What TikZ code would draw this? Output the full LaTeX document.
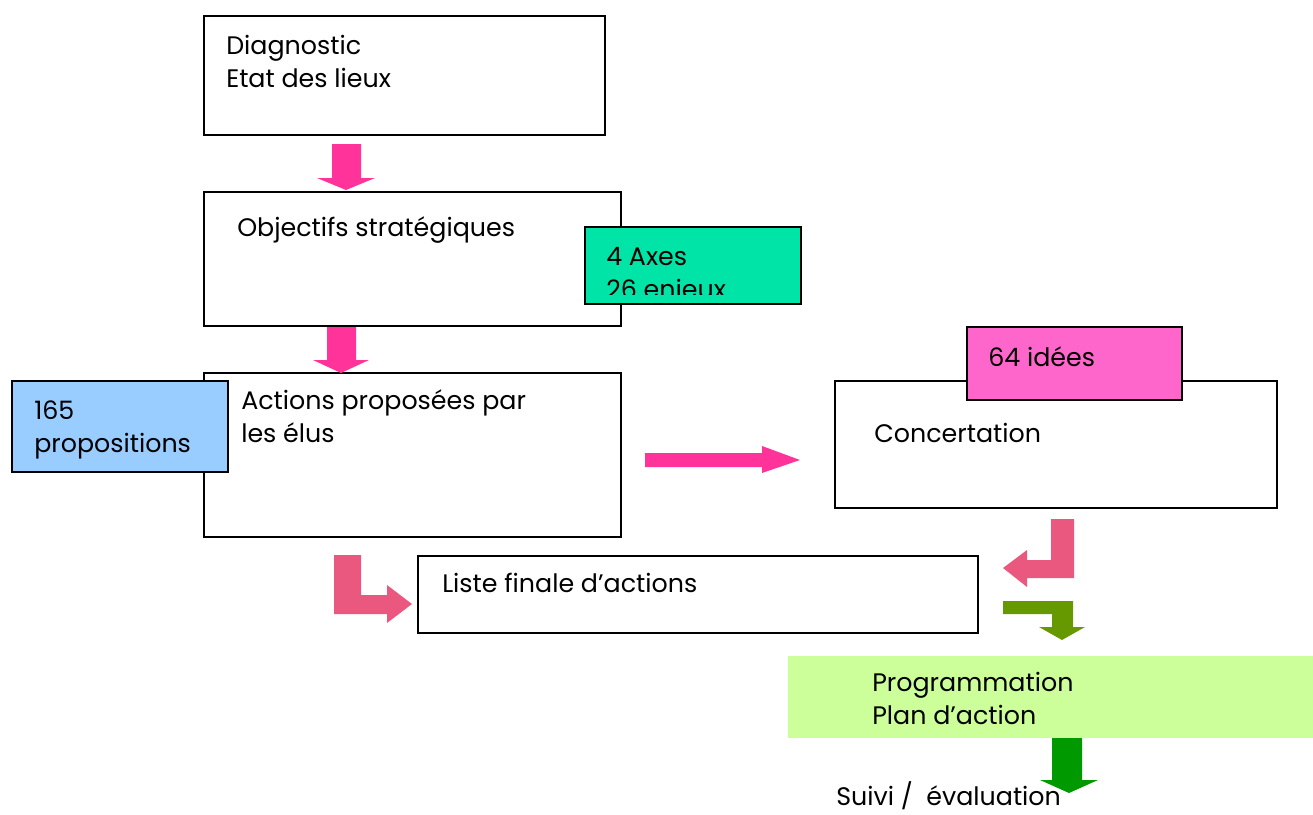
\documentclass[tikz,border=0pt]{standalone}
\usepackage{fontspec}
\setmainfont{Poppins}
\usetikzlibrary{fit}

\definecolor{hotpink}{RGB}{255,51,153}
\definecolor{bentpink}{RGB}{234,88,128}
\definecolor{olive}{RGB}{102,153,0}
\definecolor{darkgreen}{RGB}{0,153,0}
\definecolor{axesfill}{RGB}{0,228,168}
\definecolor{propfill}{RGB}{153,204,255}
\definecolor{ideefill}{RGB}{255,102,204}
\definecolor{progfill}{RGB}{204,255,153}

\begin{document}
\begin{tikzpicture}[x=0.75pt,y=0.75pt,yscale=-1,xscale=1,
  box/.style={draw,line width=1pt,inner sep=0pt},
  txt/.style={anchor=base west,inner sep=0pt,align=left,font=\fontsize{19}{24.5}\selectfont}]
\useasboundingbox (0,0) rectangle (1313,814);

%Boxes
\node [box, fit={(204,16) (605,135)}] (diag) {};
\node [box, fit={(204,192) (621,326)}] (objectifs) {};
\node [box, fit={(204,373) (621,537)}] (actions) {};
\node [box, fit={(835,381) (1277,508)}] (concert) {};
\node [box, fit={(418,556) (978,633)}] (liste) {};
\node [inner sep=0pt, fill=progfill, fit={(788,656) (1313,738)}] (prog) {};

%Tags
\node [box, fill=axesfill, fit={(585,227) (801,304)}] (axes) {};
\node [box, fill=propfill, fit={(12,381) (228,472)}] (props) {};
\node [box, fill=ideefill, fit={(967,327) (1182,400)}] (idees) {};

%Block arrows, straight
\fill [hotpink] (332,144) -- (361,144) -- (361,178) -- (375,178) -- (346,190) -- (317,178) -- (332,178) -- cycle;
\fill [hotpink] (327,327) -- (356,327) -- (356,360) -- (369,360) -- (341,373) -- (313,360) -- (327,360) -- cycle;
\fill [hotpink] (645,453) -- (762,453) -- (762,446) -- (800,460) -- (762,473) -- (762,467) -- (645,467) -- cycle;
\fill [darkgreen] (1052,738) -- (1082,738) -- (1082,780) -- (1098,780) -- (1069,793) -- (1040,780) -- (1052,780) -- cycle;

%Block arrows, bent
\fill [bentpink] (334,555) -- (361,555) -- (361,595) -- (387,595) -- (387,585) -- (412,604) -- (387,623) -- (387,614) -- (334,614) -- cycle;
\fill [bentpink] (1051,519) -- (1074,519) -- (1074,578) -- (1027,578) -- (1027,587) -- (1003,568) -- (1027,550) -- (1027,560) -- (1051,560) -- cycle;
\fill [olive] (1003,601) -- (1073,601) -- (1073,627) -- (1085,627) -- (1062,640) -- (1039,627) -- (1052,627) -- (1052,614) -- (1003,614) -- cycle;

% Text Node
\node [txt] (diagtxt) at (226,87) {Diagnostic\\Etat des lieux};
% Text Node
\node [txt] (objtxt) at (237,236) {Objectifs stratégiques};
% Text Node
\begin{scope}
\clip (587,229) rectangle (799,294);
\node [txt] (axestxt) at (606,298) {4 Axes\\26 enjeux};
\end{scope}
% Text Node
\node [txt] (actionstxt) at (241,442) {Actions proposées par\\les élus};
% Text Node
\node [txt] (propstxt) at (34,452) {165\\propositions};
% Text Node
\node [txt] (concerttxt) at (874,442) {Concertation};
% Text Node
\node [txt] (ideestxt) at (988,366) {64 idées};
% Text Node
\node [txt] (listetxt) at (442,592) {Liste finale d’actions};
% Text Node
\node [txt] (progtxt) at (872,724) {Programmation\\Plan d’action};
% Text Node
\node [txt] (suivitxt) at (836,805) {Suivi /~ évaluation};

\end{tikzpicture}
\end{document}
